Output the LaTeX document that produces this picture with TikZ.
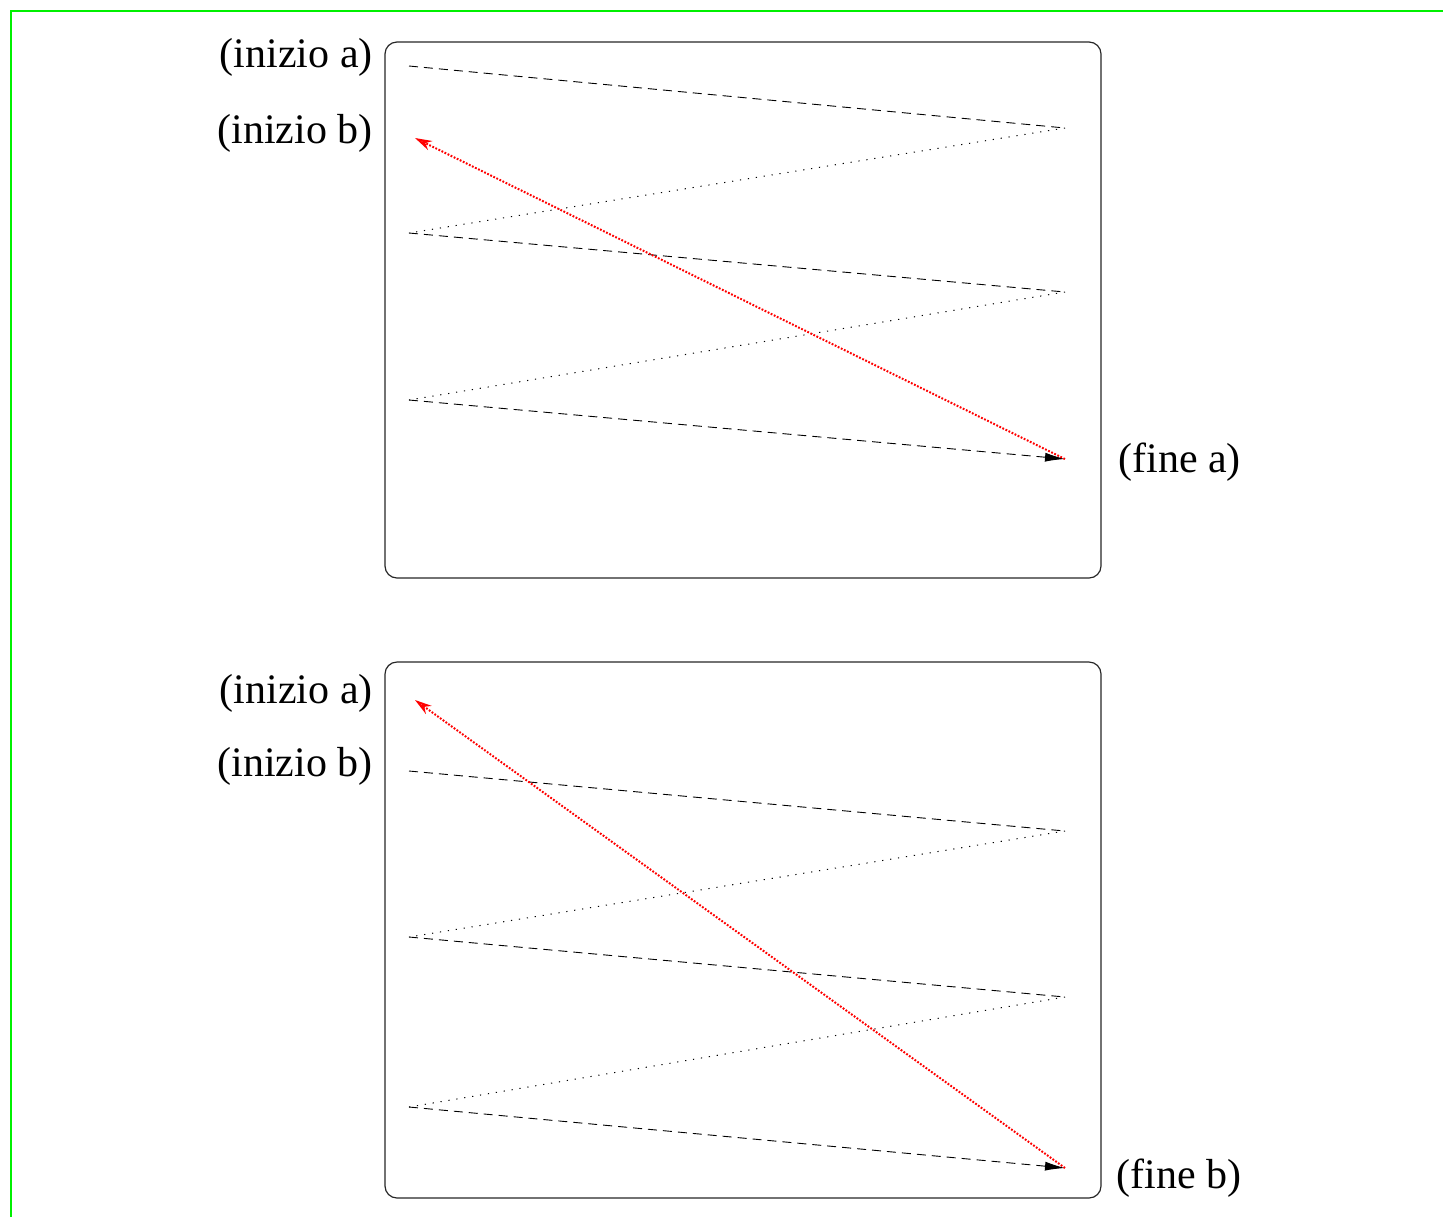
\documentclass[tikz,border=0pt]{standalone}
\usepackage{fontspec}
\setmainfont{Liberation Serif}
\usetikzlibrary{arrows.meta}
\definecolor{frgreen}{RGB}{0,240,0}
\begin{document}
\begin{tikzpicture}[x=0.5pt,y=-0.5pt,
  boxframe/.style={draw=black!85, line width=0.6pt, rounded corners=6pt},
  dashline/.style={line width=0.45pt, dash pattern=on 4.5pt off 3pt},
  dotline/.style={line width=0.5pt, dash pattern=on 0.6pt off 3.4pt},
  redline/.style={red, line width=1pt, dash pattern=on 0.9pt off 0.8pt, -{Stealth[open,length=8.5pt,width=5pt]}},
  endarrow/.style={-{Latex[length=10pt,width=4.5pt]}},
  lbl/.style={inner sep=0pt, font=\fontsize{21}{25}\selectfont}]
\useasboundingbox (0,0) rectangle (1443,1217);
\draw[frgreen, line width=1pt] (11,1217) -- (11,11) -- (1443,11);
% top box
\node[boxframe, minimum width=358pt, minimum height=268pt, inner sep=0pt] (boxa) at (743,310) {};
\coordinate (a1) at (409,66);
\coordinate (a2) at (1065,128);
\coordinate (a3) at (409,233);
\coordinate (a4) at (1065,292);
\coordinate (a5) at (409,400);
\coordinate (a6) at (1065,459);
\coordinate (a7) at (415,138);
\draw[dashline] (a1) -- (a2);
\draw[dotline] (a2) -- (a3);
\draw[dashline] (a3) -- (a4);
\draw[dotline] (a4) -- (a5);
\draw[dashline, endarrow] (a5) -- (a6);
\draw[redline] (a6) -- (a7);
\node[lbl, anchor=east] (ia1) at (373,57) {(inizio a)};
\node[lbl, anchor=east] (ib1) at (373,133) {(inizio b)};
\node[lbl, anchor=west] (fa) at (1118,462) {(fine a)};
% bottom box
\node[boxframe, minimum width=358pt, minimum height=268pt, inner sep=0pt] (boxb) at (743,930) {};
\coordinate (b1) at (409,771);
\coordinate (b2) at (1065,831);
\coordinate (b3) at (409,937);
\coordinate (b4) at (1065,997);
\coordinate (b5) at (409,1107);
\coordinate (b6) at (1065,1168);
\coordinate (b7) at (415,700);
\draw[dashline] (b1) -- (b2);
\draw[dotline] (b2) -- (b3);
\draw[dashline] (b3) -- (b4);
\draw[dotline] (b4) -- (b5);
\draw[dashline, endarrow] (b5) -- (b6);
\draw[redline] (b6) -- (b7);
\node[lbl, anchor=east] (ia2) at (373,693) {(inizio a)};
\node[lbl, anchor=east] (ib2) at (373,766) {(inizio b)};
\node[lbl, anchor=west] (fb) at (1116,1178) {(fine b)};
\end{tikzpicture}
\end{document}
